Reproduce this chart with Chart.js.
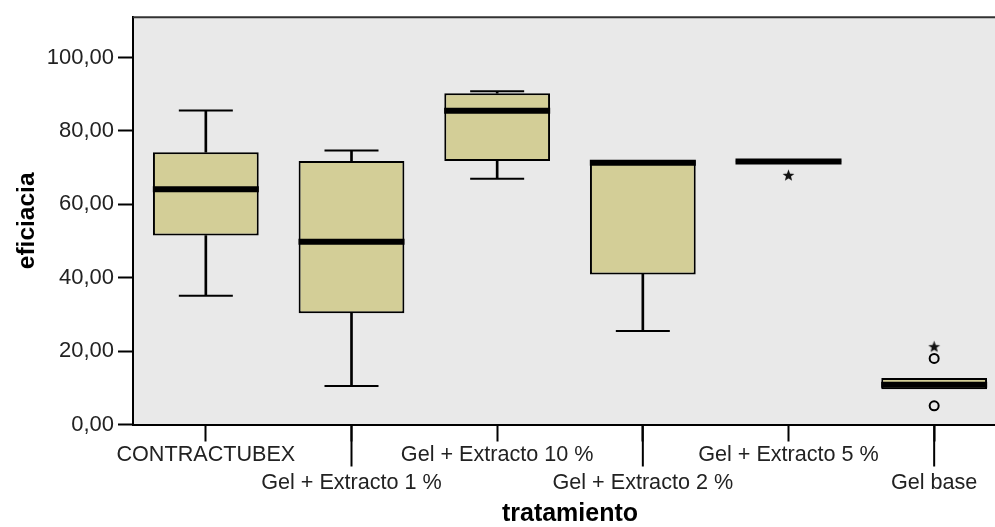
<!DOCTYPE html>
<html>
<head>
<meta charset="utf-8">
<script src="https://cdn.jsdelivr.net/npm/chart.js@4.4.1/dist/chart.umd.min.js"></script>
<style>
  html, body { margin: 0; padding: 0; background: #fff; overflow: hidden; }
  #wrap { width: 1007px; height: 527px; position: relative; }
</style>
</head>
<body>
<div id="wrap"><canvas id="chart"></canvas></div>
<script>
// boxplot: eficiacia por tratamiento
const categories = ['CONTRACTUBEX', 'Gel + Extracto 1 %', 'Gel + Extracto 10 %', 'Gel + Extracto 2 %', 'Gel + Extracto 5 %', 'Gel base']
const whiskerLow  = [35.1, 10.5, 67.0, 25.5, null, null]
const q1          = [51.5, 30.3, 71.8, 40.9, 71.4, 9.6]
const median      = [64.1, 49.8, 85.5, 71.3, 71.7, 10.8]
const q3          = [74.2, 71.8, 90.3, 72.0, 72.0, 12.7]
const whiskerHigh = [85.6, 74.7, 90.8, null, null, null]
// valores atípicos
const outlierCircles = [{ cat: 'Gel base', v: 18.0 }, { cat: 'Gel base', v: 5.1 }]
const outlierStars   = [{ cat: 'Gel + Extracto 5 %', v: 67.9 }, { cat: 'Gel base', v: 21.2 }]
const yTicks = [0, 20, 40, 60, 80, 100]

const boxFill = '#d3ce97'
const plotBg  = '#e9e9e9'

// estrella rellena (como SPSS)
const star = document.createElement('canvas')
star.width = 13; star.height = 13
;(() => {
  const c = star.getContext('2d')
  c.fillStyle = '#111'
  c.beginPath()
  for (let i = 0; i < 10; i++) {
    const r = i % 2 ? 2.6 : 6.2
    const a = -Math.PI / 2 + i * Math.PI / 5
    const px = 6.5 + Math.cos(a) * r, py = 6.8 + Math.sin(a) * r
    i ? c.lineTo(px, py) : c.moveTo(px, py)
  }
  c.closePath(); c.fill()
})()

const range = (a, b) => a.map((v, i) => (v == null || b[i] == null) ? null : [v, b[i]])

const frame = {
  id: 'frame',
  beforeDraw(chart) {
    const { ctx: c, chartArea: a } = chart
    c.save(); c.fillStyle = plotBg
    c.fillRect(a.left, a.top, a.right - a.left, a.bottom - a.top)
    c.restore()
  },
  afterDraw(chart) {
    const { ctx: c, chartArea: a, scales: { x } } = chart
    c.save()
    c.strokeStyle = '#333'; c.lineWidth = 2
    c.beginPath(); c.moveTo(a.left, a.top); c.lineTo(a.right, a.top); c.stroke()
    // ticks largos para las etiquetas de la segunda fila
    c.strokeStyle = '#000'
    categories.forEach((_, i) => {
      if (i % 2 === 0) return
      const px = x.getPixelForTick(i)
      c.beginPath(); c.moveTo(px, a.bottom); c.lineTo(px, a.bottom + 42); c.stroke()
    })
    c.restore()
  }
}

const lineDs = (label, data, style, radius, width, order) => ({
  type: 'line', label, data, showLine: false, order,
  pointStyle: style, pointRadius: radius, pointHoverRadius: radius,
  pointBorderWidth: width, pointBorderColor: '#000', pointBackgroundColor: 'rgba(0,0,0,0)'
})

const font = "'Liberation Sans', Arial, sans-serif"

new Chart(document.getElementById('chart'), {
  type: 'bar',
  plugins: [frame],
  data: {
    labels: categories,
    datasets: [
      { label: 'bigote inf', data: range(whiskerLow, q1), backgroundColor: '#000', barThickness: 2, grouped: false, order: 5 },
      { label: 'bigote sup', data: range(q3, whiskerHigh), backgroundColor: '#000', barThickness: 2, grouped: false, order: 5 },
      { label: 'caja', data: range(q1, q3), backgroundColor: boxFill, borderColor: '#000', borderWidth: 2, borderSkipped: false,
        barPercentage: 0.726, categoryPercentage: 1, grouped: false, order: 3 },
      lineDs('min', whiskerLow, 'line', 27, 2, 4),
      lineDs('max', whiskerHigh, 'line', 27, 2, 4),
      lineDs('mediana', median, 'line', 53, 6, 2),
      lineDs('atípicos', outlierCircles.map(o => ({ x: o.cat, y: o.v })), 'circle', 4.5, 2, 1),
      lineDs('extremos', outlierStars.map(o => ({ x: o.cat, y: o.v })), star, 6, 0, 0)
    ]
  },
  options: {
    responsive: true,
    maintainAspectRatio: false,
    animation: false,
    layout: { autoPadding: false, padding: { top: 16, left: 0, right: 0, bottom: 0 } },
    plugins: { legend: { display: false }, tooltip: { enabled: false } },
    scales: {
      x: {
        grid: { display: true, offset: false, drawOnChartArea: false, tickLength: 17, tickWidth: 2, tickColor: '#000' },
        border: { color: '#000', width: 2 },
        ticks: {
          autoSkip: false, maxRotation: 0, minRotation: 0, padding: 0,
          color: '#222', font: { family: font, size: 21.6, lineHeight: 1.28 },
          callback: (v, i) => i % 2 ? ['', categories[i]] : [categories[i], '']
        },
        title: { display: true, text: 'tratamiento', color: '#000', padding: { top: 0, bottom: 0 },
          font: { family: font, size: 25, weight: 'bold', lineHeight: 1 } },
        afterFit: s => { s.height = 102.5 }
      },
      y: {
        min: 0, max: 111,
        afterBuildTicks: s => { s.ticks = yTicks.map(v => ({ value: v })) },
        grid: { display: true, drawOnChartArea: false, tickLength: 15, tickWidth: 2, tickColor: '#000' },
        border: { color: '#000', width: 2 },
        ticks: {
          padding: 4, color: '#222', font: { family: font, size: 22 },
          callback: v => v.toFixed(2).replace('.', ',')
        },
        title: { display: true, text: 'eficiacia', color: '#000', padding: { top: 13, bottom: 0 },
          font: { family: font, size: 24.5, weight: 'bold', lineHeight: 1.2 } },
        afterFit: s => { s.width = 133 }
      }
    }
  }
})
</script>
</body>
</html>
